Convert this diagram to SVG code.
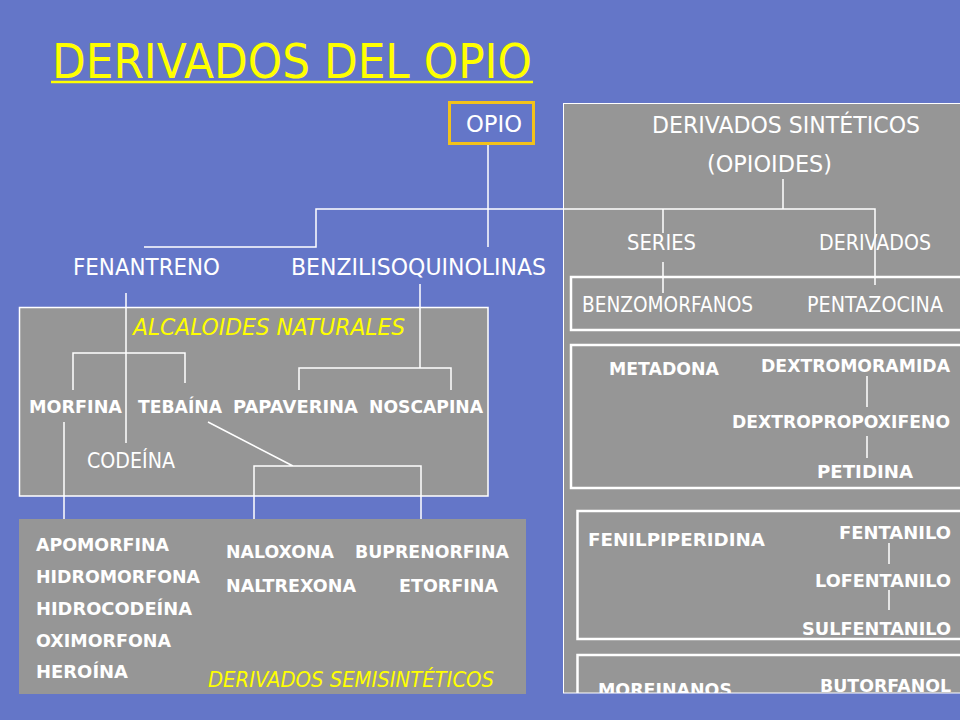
<svg xmlns="http://www.w3.org/2000/svg" width="960" height="720" viewBox="0 0 960 720">
<defs>
<style>
text{font-family:"DejaVu Sans","Liberation Sans",sans-serif;fill:#ffffff}
.b{font-weight:bold;font-size:18.5px}
.n{font-size:21px}
.l{font-size:23.5px}
.y{fill:#ffff00;font-style:italic}
.ln{stroke:#ffffff;stroke-width:1.5;fill:none}
.bx{fill:none;stroke:#ffffff;stroke-width:2.5}
</style>
<clipPath id="rc"><rect x="563" y="103" width="397" height="590"/></clipPath>
</defs>
<rect width="960" height="720" fill="#6476C8"/>

<g id="title">
<text x="52" y="78" font-size="48" style="fill:#ffff00" textLength="480" lengthAdjust="spacingAndGlyphs">DERIVADOS DEL OPIO</text>
<line x1="51" y1="82" x2="533" y2="82" stroke="#ffff00" stroke-width="2.5"/>
</g>

<g id="panel-sinteticos">
<rect x="563.5" y="103.5" width="400" height="589.5" fill="#969696" stroke="#ffffff" stroke-width="1"/>
</g>
<g id="panel-naturales">
<rect x="19.5" y="307.5" width="468.5" height="188.5" fill="#969696" stroke="#ffffff" stroke-width="1.5"/>
</g>
<g id="panel-semisinteticos">
<rect x="19" y="519" width="507" height="175" fill="#969696"/>
</g>

<g id="connectors">
<path class="ln" d="M488 144V247"/>
<path class="ln" d="M144 247H316V209H875V285"/>
<path class="ln" d="M783 179V209"/>
<path class="ln" d="M663 209V233M663 262V293"/>
<path class="ln" d="M126 293V443"/>
<path class="ln" d="M420 284V368M299 390V368H451V390"/>
<path class="ln" d="M73 390V353H185V383"/>
<path class="ln" d="M64 422V519"/>
<path class="ln" d="M208 422L293 466M254 519V466H421V519"/>
<path class="ln" d="M867 376V407M867 436V458"/>
<path class="ln" d="M889 543V564M889 590V610"/>
</g>

<g id="opio">
<rect x="449.5" y="102.5" width="84" height="41" fill="none" stroke="#F2C21B" stroke-width="3"/>
<text class="l" x="466" y="132" textLength="56" lengthAdjust="spacingAndGlyphs">OPIO</text>
</g>

<g id="sinteticos">
<text class="l" x="652" y="133" textLength="268" lengthAdjust="spacingAndGlyphs">DERIVADOS SINTÉTICOS</text>
<text class="l" x="707" y="172" textLength="125" lengthAdjust="spacingAndGlyphs">(OPIOIDES)</text>
</g>
<g id="series"><text class="n" x="627" y="250" textLength="69" lengthAdjust="spacingAndGlyphs">SERIES</text></g>
<g id="derivados"><text class="n" x="819" y="250" textLength="112" lengthAdjust="spacingAndGlyphs">DERIVADOS</text></g>

<g id="box-benzomorfanos">
<rect class="bx" x="571" y="277" width="400" height="53"/>
<text class="n" x="582" y="312" textLength="171" lengthAdjust="spacingAndGlyphs">BENZOMORFANOS</text>
<text class="n" x="807" y="312" textLength="136" lengthAdjust="spacingAndGlyphs">PENTAZOCINA</text>
</g>

<g id="box-metadona">
<rect class="bx" x="571" y="345" width="400" height="143"/>
<text class="b" x="609" y="375" textLength="110" lengthAdjust="spacingAndGlyphs">METADONA</text>
<text class="b" x="761" y="372" textLength="189" lengthAdjust="spacingAndGlyphs">DEXTROMORAMIDA</text>
<text class="b" x="732" y="428" textLength="218" lengthAdjust="spacingAndGlyphs">DEXTROPROPOXIFENO</text>
<text class="b" x="817" y="478" textLength="96" lengthAdjust="spacingAndGlyphs">PETIDINA</text>
</g>

<g id="box-fenilpiperidina">
<rect class="bx" x="577.5" y="511" width="400" height="128"/>
<text class="b" x="588" y="546" textLength="177" lengthAdjust="spacingAndGlyphs">FENILPIPERIDINA</text>
<text class="b" x="839" y="539" textLength="112" lengthAdjust="spacingAndGlyphs">FENTANILO</text>
<text class="b" x="815" y="587" textLength="136" lengthAdjust="spacingAndGlyphs">LOFENTANILO</text>
<text class="b" x="802" y="635" textLength="149" lengthAdjust="spacingAndGlyphs">SULFENTANILO</text>
</g>

<g id="box-morfinanos" clip-path="url(#rc)">
<rect class="bx" x="577.5" y="655" width="400" height="60"/>
<text class="b" x="598" y="696" textLength="134" lengthAdjust="spacingAndGlyphs">MORFINANOS</text>
<text class="b" x="820" y="692" textLength="131" lengthAdjust="spacingAndGlyphs">BUTORFANOL</text>
</g>

<g id="fenantreno"><text class="l" x="73" y="275" textLength="147" lengthAdjust="spacingAndGlyphs">FENANTRENO</text></g>
<g id="benzilisoquinolinas"><text class="l" x="291" y="275" textLength="255" lengthAdjust="spacingAndGlyphs">BENZILISOQUINOLINAS</text></g>

<g id="alcaloides-naturales">
<text class="l y" x="133" y="335" textLength="272" lengthAdjust="spacingAndGlyphs">ALCALOIDES NATURALES</text>
</g>
<g id="morfina"><text class="b" x="29" y="413" textLength="93" lengthAdjust="spacingAndGlyphs">MORFINA</text></g>
<g id="tebaina"><text class="b" x="138" y="413" textLength="84" lengthAdjust="spacingAndGlyphs">TEBAÍNA</text></g>
<g id="papaverina"><text class="b" x="233" y="413" textLength="125" lengthAdjust="spacingAndGlyphs">PAPAVERINA</text></g>
<g id="noscapina"><text class="b" x="369" y="413" textLength="114" lengthAdjust="spacingAndGlyphs">NOSCAPINA</text></g>
<g id="codeina"><text class="n" x="87" y="468" textLength="88" lengthAdjust="spacingAndGlyphs">CODEÍNA</text></g>

<g id="semisinteticos-morfina">
<text class="b" x="36" y="551" textLength="133" lengthAdjust="spacingAndGlyphs">APOMORFINA</text>
<text class="b" x="36" y="583" textLength="164" lengthAdjust="spacingAndGlyphs">HIDROMORFONA</text>
<text class="b" x="36" y="615" textLength="156" lengthAdjust="spacingAndGlyphs">HIDROCODEÍNA</text>
<text class="b" x="36" y="647" textLength="135" lengthAdjust="spacingAndGlyphs">OXIMORFONA</text>
<text class="b" x="36" y="678" textLength="92" lengthAdjust="spacingAndGlyphs">HEROÍNA</text>
</g>
<g id="semisinteticos-tebaina">
<text class="b" x="226" y="558" textLength="108" lengthAdjust="spacingAndGlyphs">NALOXONA</text>
<text class="b" x="355" y="558" textLength="154" lengthAdjust="spacingAndGlyphs">BUPRENORFINA</text>
<text class="b" x="226" y="592" textLength="130" lengthAdjust="spacingAndGlyphs">NALTREXONA</text>
<text class="b" x="399" y="592" textLength="99" lengthAdjust="spacingAndGlyphs">ETORFINA</text>
</g>
<g id="derivados-semisinteticos">
<text class="n y" x="208" y="687" textLength="286" lengthAdjust="spacingAndGlyphs">DERIVADOS SEMISINTÉTICOS</text>
</g>
</svg>
